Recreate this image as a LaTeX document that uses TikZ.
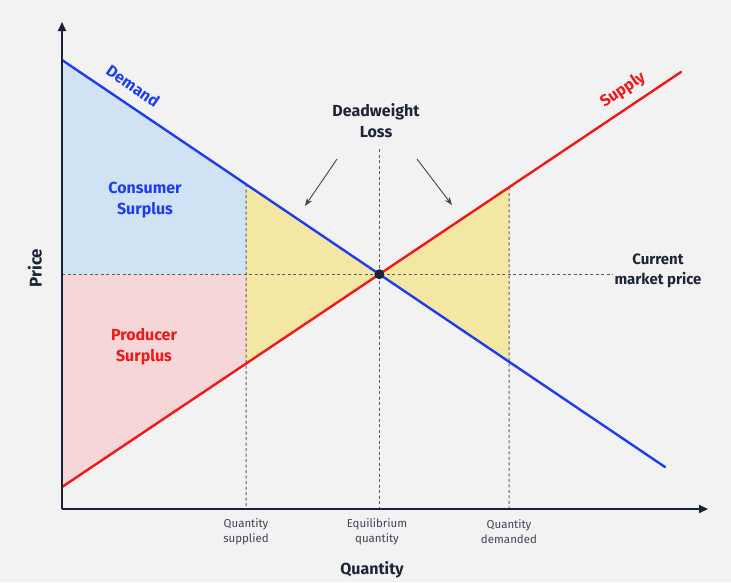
\documentclass[tikz,border=0pt]{standalone}
\usepackage{fontspec}
\setmainfont{Fira Sans}
\usetikzlibrary{arrows.meta,calc}
\definecolor{bg}{HTML}{F2F2F3}
\definecolor{axis}{HTML}{1C2236}
\definecolor{txt}{HTML}{1E2538}
\definecolor{dblue}{HTML}{1F3CF0}
\definecolor{sred}{HTML}{F01818}
\definecolor{csfill}{HTML}{CFE3F4}
\definecolor{psfill}{HTML}{F6D6D7}
\definecolor{dwfill}{HTML}{F4E7A3}
\definecolor{dashc}{HTML}{5A5E66}
\tikzset{
  curve/.style={line width=2.4pt, line cap=round},
  guide/.style={dashc, line width=1pt, dash pattern=on 3pt off 2.5pt},
  axisline/.style={axis, line width=2pt, -{Triangle[length=9pt,width=8pt]}},
  lbl/.style={font=\bfseries\fontsize{16}{21}\selectfont, align=center, text=txt},
  tick/.style={font=\fontsize{11.5}{15}\selectfont, align=center, text=txt!85},
  pointer/.style={draw=txt!85, line width=0.9pt, -{Stealth[length=8pt,width=6pt]}}
}
\begin{document}
\begin{tikzpicture}[x=1pt,y=-1pt]
\fill[bg] (0,0) rectangle (731,582);
\useasboundingbox (0,0) rectangle (731,582);
% key points
\coordinate (O) at (62,509);
\coordinate (Ytop) at (62,22);
\coordinate (Xend) at (708,509);
\coordinate (D1) at (62,60);
\coordinate (D2) at (665,467);
\coordinate (S1) at (62,487);
\coordinate (S2) at (681,72);
\coordinate (E) at (intersection of D1--D2 and S1--S2);
\coordinate (qSa) at (246,0);
\coordinate (qS) at (246,509);
\coordinate (qDa) at (509,0);
\coordinate (qD) at (509,509);
\coordinate (DqS) at (intersection of D1--D2 and qSa--qS);
\coordinate (SqS) at (intersection of S1--S2 and qSa--qS);
\coordinate (DqD) at (intersection of D1--D2 and qDa--qD);
\coordinate (SqD) at (intersection of S1--S2 and qDa--qD);
\coordinate (PL) at (O|-E);
\coordinate (PR) at (613,0|-E);
\coordinate (Etop) at (E|-0,149);
\coordinate (Ebot) at (E|-O);
% fills
\fill[csfill] (D1) -- (DqS) -- (qS|-E) -- (PL) -- cycle;
\fill[psfill] (PL) -- (qS|-E) -- (SqS) -- (S1) -- cycle;
\fill[dwfill] (DqS) -- (E) -- (SqS) -- cycle;
\fill[dwfill] (E) -- (SqD) -- (DqD) -- cycle;
% guides
\draw[guide] (PL) -- (PR);
\draw[guide] (DqS) -- (qS);
\draw[guide] (SqD) -- (qD);
\draw[guide] (Etop) -- (Ebot);
% curves
\draw[curve, dblue] (D1) -- (D2);
\draw[curve, sred] (S1) -- (S2);
% axes
\draw[axisline] (O) -- (Ytop);
\draw[axisline] (O) -- (Xend);
\fill[axis] (E) circle (5pt);
% labels
\node[lbl, text=dblue, rotate=-34.5] (dlab) at (133,86) {Demand};
\node[lbl, text=sred, rotate=34] (slab) at (623,90) {Supply};
\node[lbl] (dw) at (376,121) {Deadweight\\Loss};
\node[lbl, text=dblue] (cs) at (145,200) {Consumer\\Surplus};
\node[lbl, text=sred] (ps) at (144,347) {Producer\\Surplus};
\node[lbl, font=\bfseries\fontsize{15}{20}\selectfont] (cmp) at (658,271) {Current\\market price};
\node[tick] (t1) at (246,532) {Quantity\\supplied};
\node[tick] (t2) at (377,532) {Equilibrium\\quantity};
\node[tick] (t3) at (509,532) {Quantity\\demanded};
\node[lbl] (xl) at (372,570) {Quantity};
\node[lbl, rotate=90, font=\bfseries\fontsize{17}{21}\selectfont] (yl) at (35,268) {Price};
% pointers
\coordinate (a1s) at (337,159);
\coordinate (a1e) at (305,206);
\coordinate (a2s) at (417,159);
\coordinate (a2e) at (452,205);
\draw[pointer] (a1s) -- (a1e);
\draw[pointer] (a2s) -- (a2e);
\end{tikzpicture}
\end{document}
